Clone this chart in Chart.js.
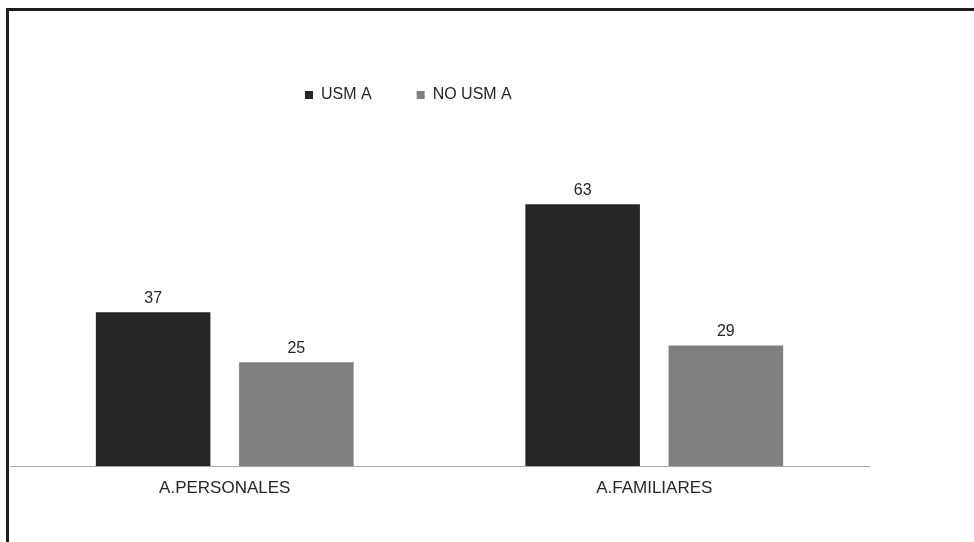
<!DOCTYPE html>
<html>
<head>
<meta charset="utf-8">
<script src="https://cdn.jsdelivr.net/npm/chart.js@4"></script>
<style>
  html, body { margin: 0; padding: 0; background: #fff; overflow: hidden; }
  #frame { position: absolute; left: 6px; top: 8px; width: 1100px; height: 700px;
           border-left: 3px solid #1c1c1c; border-top: 3px solid #1c1c1c; }
  #wrap { position: absolute; left: 0; top: 0; width: 974px; height: 542px; }
</style>
</head>
<body>
<div id="frame"></div>
<div id="wrap"><canvas id="chart"></canvas></div>
<script>
const categories = ['A.PERSONALES', 'A.FAMILIARES'];
const seriesNames = ['USM A', 'NO USM A'];
const usmA = [37, 63];
const noUsmA = [25, 29];

const FONT = '"Liberation Sans", Arial, sans-serif';

// value labels above each bar
const valueLabels = {
  id: 'valueLabels',
  afterDatasetsDraw(chart) {
    const ctx = chart.ctx;
    ctx.save();
    ctx.font = '16px ' + FONT;
    ctx.fillStyle = '#262626';
    ctx.textAlign = 'center';
    ctx.textBaseline = 'alphabetic';
    chart.data.datasets.forEach((ds, i) => {
      chart.getDatasetMeta(i).data.forEach((bar, j) => {
        ctx.fillText(String(ds.data[j]), bar.x, bar.y - 9.5);
      });
    });
    ctx.restore();
  }
};

// legend sits left of centre in the original
const legendShift = {
  id: 'legendShift',
  afterLayout(chart) {
    chart.legend.left += 250;
    chart.legend.right += 250;
  }
};

new Chart(document.getElementById('chart'), {
  type: 'bar',
  data: {
    labels: categories,
    datasets: [
      { label: seriesNames[0], data: usmA, backgroundColor: '#262626' },
      { label: seriesNames[1], data: noUsmA, backgroundColor: '#7f7f7f' }
    ]
  },
  options: {
    responsive: true,
    maintainAspectRatio: false,
    animation: false,
    categoryPercentage: 0.667,
    barPercentage: 0.8,
    layout: { padding: { left: 10, right: 105, top: 42, bottom: 32 } },
    scales: {
      x: {
        grid: { display: false, drawTicks: false, tickLength: 0 },
        border: { display: true, color: '#a6a6a6', width: 1 },
        ticks: { color: '#262626', padding: 12, font: { family: FONT, size: 17, lineHeight: '20px' } }
      },
      y: {
        display: false,
        min: 0,
        max: 85
      }
    },
    plugins: {
      tooltip: { enabled: false },
      legend: {
        position: 'top',
        align: 'start',
        labels: {
          boxWidth: 8,
          boxHeight: 8,
          padding: 45,
          color: '#262626',
          font: { family: FONT, size: 16 }
        }
      }
    }
  },
  plugins: [valueLabels, legendShift]
});
</script>
</body>
</html>
